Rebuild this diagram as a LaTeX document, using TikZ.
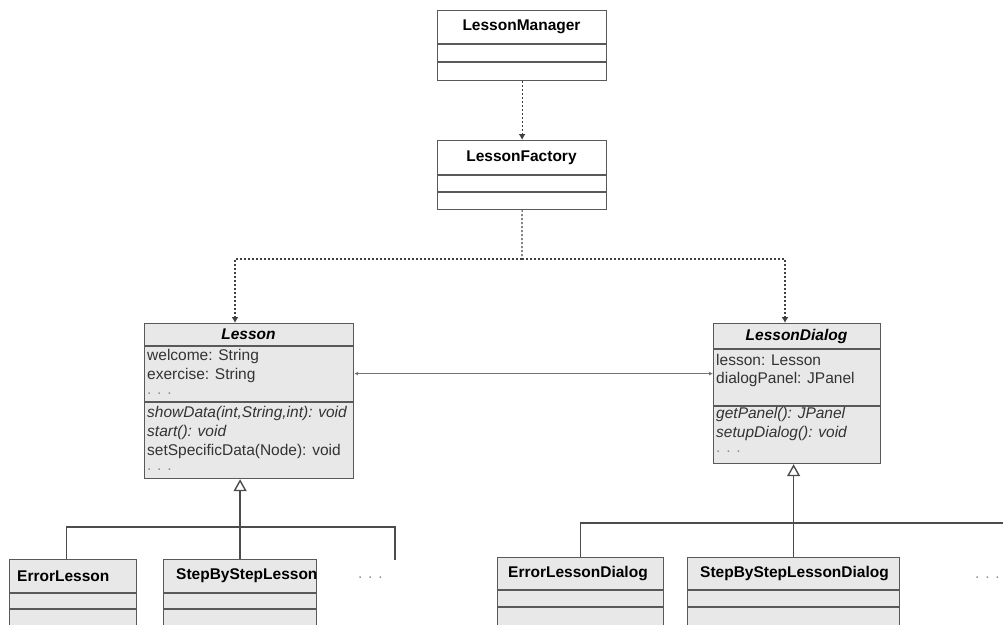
\documentclass[tikz,border=0pt]{standalone}
\usepackage{fontspec}
\setmainfont{Liberation Sans}
\usetikzlibrary{arrows.meta}

\begin{document}
\begin{tikzpicture}[
    x=1pt, y=-1pt,
    font=\fontsize{15.5}{19}\selectfont,
    >={Latex[length=6pt,width=7pt]},
    umlbox/.style={draw=black!65, line width=1.2pt, fill=black!9,
                   anchor=north west, inner sep=0pt},
    plainbox/.style={umlbox, fill=white},
    sep/.style={draw=black!65, line width=1.2pt},
    cname/.style={font=\fontsize{15.5}{19}\selectfont\bfseries, inner sep=0pt},
    member/.style={anchor=west, inner sep=0pt, text=black!80},
    dots/.style={member, text=black!45},
    dep/.style={draw=black!75, line width=1.2pt, dash pattern=on 2pt off 2pt, ->},
    assoc/.style={draw=black!55, line width=0.8pt, <->,
                  >={Latex[length=4pt,width=4pt]}},
    gen/.style={draw=black!70, line width=1.2pt},
    genarrow/.style={gen, -{Triangle[open,length=12pt,width=13pt,line width=1.4pt]}}
]
\clip (0,0) rectangle (1003,624);

% oben: Manager und Factory
\node[plainbox, minimum width=169, minimum height=70] (manager) at (437,10) {};
\node[cname] (managerName) at (521.5,27) {LessonManager};
\draw[sep] (437,44) -- (606,44) (437,62) -- (606,62);

\node[plainbox, minimum width=169, minimum height=69] (factory) at (437,140) {};
\node[cname] (factoryName) at (521.5,158) {LessonFactory};
\draw[sep] (437,175) -- (606,175) (437,192) -- (606,192);

\draw[dep] (manager.south) -- (factory.north);

% Lesson
\node[umlbox, minimum width=209, minimum height=155] (lesson) at (144,323) {};
\node[cname] (lessonName) at (248.5,334) {\itshape Lesson};
\draw[sep] (144,346) -- (353,346) (144,402) -- (353,402);
\begin{scope}
  \clip (lesson.north west) rectangle (lesson.south east);
  \node[member] (welcome) at (147,356) {welcome: String};
  \node[member] (exercise) at (147,375) {exercise: String};
  \node[dots] (lessonAttrMore) at (147,394) {. . .};
  \node[member] (showData) at (147,413.5) {\itshape showData(int,String,int): void};
  \node[member] (start) at (147,432) {\itshape start(): void};
  \node[member] (setData) at (147,451) {setSpecificData(Node): void};
  \node[dots] (lessonOpMore) at (147,470) {. . .};
\end{scope}

% LessonDialog
\node[umlbox, minimum width=167, minimum height=140] (dialog) at (713,323) {};
\node[cname] (dialogName) at (796.5,336) {\itshape LessonDialog};
\draw[sep] (713,349) -- (880,349) (713,406) -- (880,406);
\node[member] (lessonAttr) at (716,360) {lesson: Lesson};
\node[member] (panelAttr) at (716,379) {dialogPanel: JPanel};
\node[member] (getPanel) at (716,414.5) {\itshape getPanel(): JPanel};
\node[member] (setupDialog) at (716,433) {\itshape setupDialog(): void};
\node[dots] (dialogOpMore) at (716,452) {. . .};

% Abhaengigkeiten der Factory
\coordinate (fork) at (522,259);
\coordinate (forkL) at (235,259);
\coordinate (forkR) at (785,259);
\draw[dep, -] (factory.south) -- (fork);
\draw[dep] (fork) -- (forkL) -- (forkL |- lesson.north);
\draw[dep] (fork) -- (forkR) -- (forkR |- dialog.north);

% Assoziation
\draw[assoc] ([yshift=27.5pt]lesson.east) -- ([yshift=27.5pt]lesson.east -| dialog.west);

% Unterklassen Lesson
\node[umlbox, minimum width=127, minimum height=90] (errLesson) at (9,559) {};
\node[cname, anchor=west] (errLessonName) at (17,576) {ErrorLesson};
\draw[sep] (9,593) -- (136,593) (9,609) -- (136,609);

\node[umlbox, minimum width=153, minimum height=90] (stepLesson) at (163,559) {};
\node[cname, anchor=west] (stepLessonName) at (176,576) {StepByStepLesson};
\draw[sep] (163,593) -- (316,593) (163,609) -- (316,609);

\node[dots] (lessonMore) at (358,578) {. . .};

\coordinate (lessonBar) at (239.5,527);
\coordinate (lessonEnd) at (395,560);
\draw[genarrow, line width=2pt] (stepLesson.north) -- (stepLesson.north |- lesson.south);
\draw[gen] ([xshift=-7pt]errLesson.north) |- (lessonBar) -| (lessonEnd);

% Unterklassen LessonDialog
\node[umlbox, minimum width=166, minimum height=90] (errDialog) at (497,557) {};
\node[cname, anchor=west] (errDialogName) at (508,574) {ErrorLessonDialog};
\draw[sep] (497,590) -- (663,590) (497,607) -- (663,607);

\node[umlbox, minimum width=212, minimum height=90] (stepDialog) at (687,557) {};
\node[cname, anchor=west] (stepDialogName) at (700,574) {StepByStepLessonDialog};
\draw[sep] (687,590) -- (899,590) (687,607) -- (899,607);

\node[dots] (dialogMore) at (975,578) {. . .};

\coordinate (dialogBar) at (793,523);
\coordinate (dialogEnd) at (1010,523);
\draw[genarrow] (stepDialog.north) -- (stepDialog.north |- dialog.south);
\draw[gen] (errDialog.north) |- (dialogBar) -- (dialogEnd);

\end{tikzpicture}
\end{document}
